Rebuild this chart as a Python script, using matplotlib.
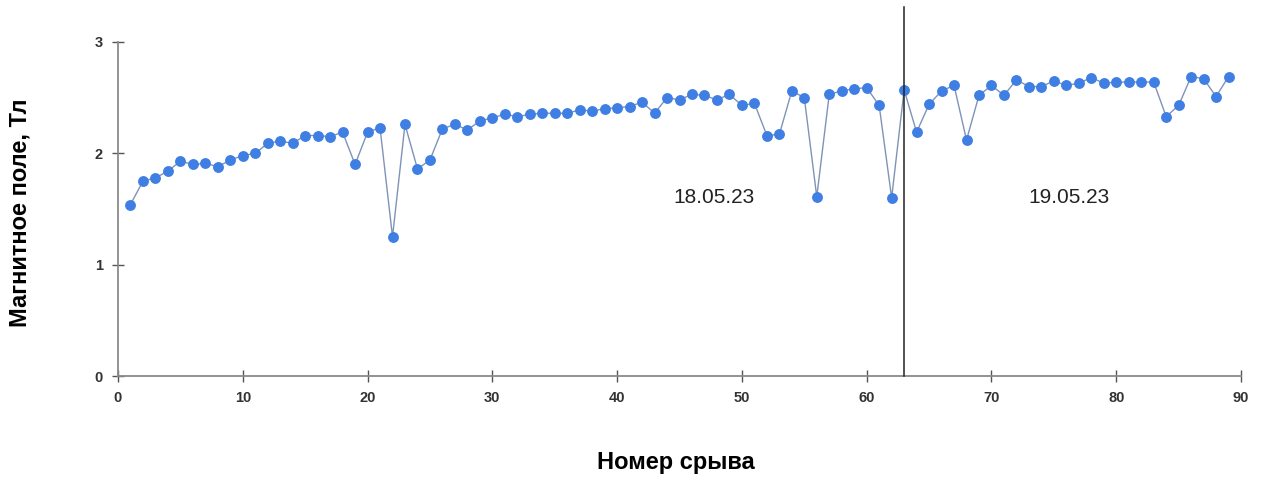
import numpy as np
import matplotlib.pyplot as plt

# Magnetic field at each quench
quench_no = list(range(1, 90))
field = [
    1.54, 1.75, 1.78, 1.84, 1.93, 1.90, 1.91, 1.88, 1.94, 1.98,
    2.00, 2.09, 2.11, 2.09, 2.16, 2.16, 2.15, 2.19, 1.90, 2.19,
    2.23, 1.25, 2.26, 1.86, 1.94, 2.22, 2.26, 2.21, 2.29, 2.32,
    2.35, 2.33, 2.35, 2.36, 2.36, 2.36, 2.39, 2.38, 2.40, 2.41,
    2.42, 2.46, 2.36, 2.50, 2.48, 2.53, 2.52, 2.48, 2.53, 2.43,
    2.45, 2.16, 2.17, 2.56, 2.50, 1.61, 2.53, 2.56, 2.58, 2.59,
    2.43, 1.60, 2.57, 2.19, 2.44, 2.56, 2.61, 2.12, 2.52, 2.61,
    2.52, 2.66, 2.60, 2.60, 2.65, 2.61, 2.63, 2.68, 2.63, 2.64,
    2.64, 2.64, 2.64, 2.33, 2.43, 2.69, 2.67, 2.51, 2.69,
]

day_split = 63
day_labels = ["18.05.23", "19.05.23"]
day_label_x = [47.8, 76.2]
day_label_y = 1.6

x_ticks = list(range(0, 91, 10))
y_ticks = [0, 1, 2, 3]

plt.rcParams["font.family"] = ["Liberation Sans", "DejaVu Sans"]

fig = plt.figure(figsize=(12.7, 4.86), dpi=100)
ax = fig.add_axes([0.0929, 0.2263, 0.8843, 0.6873])

ax.plot(quench_no, field, color="#7f93b8", linewidth=1.0, zorder=2)
ax.plot(quench_no, field, linestyle="none", marker="o", markersize=6.8,
        markerfacecolor="#3f7fe3", markeredgecolor="#3f7fe3", zorder=3)

# boundary between the two days
ax.plot([day_split, day_split], [0, 3.31], color="#222222", linewidth=1.1,
        clip_on=False, zorder=4)

for lbl, lx in zip(day_labels, day_label_x):
    ax.text(lx, day_label_y, lbl, ha="center", va="center",
            fontsize=15, color="#222222")

ax.set_xlim(0, 90)
ax.set_ylim(0, 3)
ax.set_xticks(x_ticks)
ax.set_yticks(y_ticks)

for side in ["top", "right"]:
    ax.spines[side].set_visible(False)
for side in ["left", "bottom"]:
    ax.spines[side].set_color("#8a8a8a")
    ax.spines[side].set_linewidth(1.3)

ax.tick_params(axis="both", direction="inout", length=8, width=1.0,
               color="#555555", labelsize=10.5, labelcolor="#333333")
ax.tick_params(axis="x", pad=7)
ax.tick_params(axis="y", pad=7)
for t in ax.get_xticklabels() + ax.get_yticklabels():
    t.set_fontweight("bold")

ax.set_xlabel("Номер срыва", fontsize=17, fontweight="bold")
ax.set_ylabel("Магнитное поле, Тл", fontsize=17, fontweight="bold")
ax.xaxis.set_label_coords(0.497, -0.225)
ax.yaxis.set_label_coords(-0.077, 0.49)

fig.savefig("out.png", dpi=100)
